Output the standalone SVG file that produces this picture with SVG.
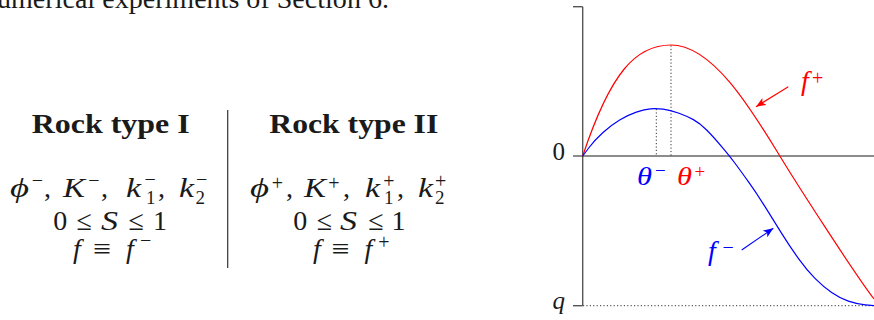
<svg xmlns="http://www.w3.org/2000/svg" width="874" height="320" viewBox="0 0 874 320">
<style>
  text { font-family: "Liberation Serif", "DejaVu Serif", serif; fill: #1a1a1a; }
  .t { font-size: 27px; font-weight: bold; }
  .m { font-size: 28px; }
  .i { font-style: italic; }
  .s { font-size: 20px; font-style: normal; }
  .b { font-size: 19px; font-style: normal; }
  .g { font-size: 25px; }
  .red { fill: #ff0000; }
  .blue { fill: #0000ff; }
  .axis { stroke: #1a1a1a; stroke-width: 1.2; fill: none; }
  .vaxis { stroke: #555; stroke-width: 1.4; fill: none; }
  .dot { stroke: #333; stroke-width: 1; stroke-dasharray: 1.2 2.2; fill: none; }
  .cr { stroke: #ff0000; stroke-width: 1.2; fill: none; }
  .cb { stroke: #0000ff; stroke-width: 1.2; fill: none; }
</style>
<defs>
  <marker id="ahr" viewBox="0 0 10 8" refX="10" refY="4" markerWidth="10" markerHeight="8" markerUnits="userSpaceOnUse" orient="auto">
    <path d="M0,0 L10,4 L0,8 L2.5,4 Z" fill="#ff0000"/>
  </marker>
  <marker id="ahb" viewBox="0 0 10 8" refX="10" refY="4" markerWidth="10" markerHeight="8" markerUnits="userSpaceOnUse" orient="auto">
    <path d="M0,0 L10,4 L0,8 L2.5,4 Z" fill="#0000ff"/>
  </marker>
</defs>
<rect width="874" height="320" fill="#ffffff"/>

<g id="caption-fragment">
  <text x="-3" y="8" font-size="27" textLength="392" lengthAdjust="spacingAndGlyphs">umerical experiments of Section 6.</text>
</g>

<g id="rock-type-1">
  <text class="t" x="31.7" y="133" textLength="158" lengthAdjust="spacingAndGlyphs">Rock type I</text>
  <text class="m"><tspan class="i" x="10" y="197" textLength="19" lengthAdjust="spacingAndGlyphs">ϕ</tspan><tspan class="s" x="31.7" y="187">−</tspan><tspan x="44" y="197">,</tspan><tspan class="i" x="63" y="197" textLength="22" lengthAdjust="spacingAndGlyphs">K</tspan><tspan class="s" x="88.3" y="187">−</tspan><tspan x="101" y="197">,</tspan><tspan class="i" x="126" y="197" textLength="15" lengthAdjust="spacingAndGlyphs">k</tspan><tspan class="s" x="144.5" y="186">−</tspan><tspan class="b" x="146" y="204">1</tspan><tspan x="158" y="197">,</tspan><tspan class="i" x="179" y="197" textLength="15" lengthAdjust="spacingAndGlyphs">k</tspan><tspan class="s" x="196" y="186">−</tspan><tspan class="b" x="195.5" y="204">2</tspan></text>
  <text class="m"><tspan x="53.3" y="230">0</tspan><tspan x="76.5" y="230">≤</tspan><tspan class="i" x="101" y="230" textLength="17" lengthAdjust="spacingAndGlyphs">S</tspan><tspan x="128.5" y="230">≤</tspan><tspan x="153" y="230">1</tspan></text>
  <text class="m"><tspan class="i" x="73" y="258">f</tspan><tspan x="93.3" y="258" textLength="18" lengthAdjust="spacingAndGlyphs">≡</tspan><tspan class="i" x="126" y="258">f</tspan><tspan class="s" x="140" y="247">−</tspan></text>
</g>

<g id="divider">
  <line x1="227.7" y1="110" x2="227.7" y2="268" stroke="#333" stroke-width="1.2"/>
</g>

<g id="rock-type-2">
  <text class="t" x="269.3" y="133" textLength="169" lengthAdjust="spacingAndGlyphs">Rock type II</text>
  <text class="m"><tspan class="i" x="250" y="197" textLength="19" lengthAdjust="spacingAndGlyphs">ϕ</tspan><tspan class="s" x="271.7" y="189.5">+</tspan><tspan x="286" y="197">,</tspan><tspan class="i" x="304" y="197" textLength="22" lengthAdjust="spacingAndGlyphs">K</tspan><tspan class="s" x="328.3" y="189.5">+</tspan><tspan x="343" y="197">,</tspan><tspan class="i" x="365" y="197" textLength="15" lengthAdjust="spacingAndGlyphs">k</tspan><tspan class="s" x="383.3" y="188">+</tspan><tspan class="b" x="384" y="204">1</tspan><tspan x="397" y="197">,</tspan><tspan class="i" x="418" y="197" textLength="15" lengthAdjust="spacingAndGlyphs">k</tspan><tspan class="s" x="435" y="188">+</tspan><tspan class="b" x="435" y="204">2</tspan></text>
  <text class="m"><tspan x="293.3" y="230">0</tspan><tspan x="316.7" y="230">≤</tspan><tspan class="i" x="340" y="230" textLength="17" lengthAdjust="spacingAndGlyphs">S</tspan><tspan x="368.3" y="230">≤</tspan><tspan x="391.5" y="230">1</tspan></text>
  <text class="m"><tspan class="i" x="313" y="258">f</tspan><tspan x="331.7" y="258" textLength="18" lengthAdjust="spacingAndGlyphs">≡</tspan><tspan class="i" x="364.5" y="258">f</tspan><tspan class="s" x="378.3" y="248.5">+</tspan></text>
</g>

<g id="plot-axes">
  <line class="vaxis" x1="582.7" y1="6.7" x2="582.7" y2="305.7"/>
  <line class="vaxis" x1="573" y1="6.7" x2="582.7" y2="6.7"/>
  <line class="vaxis" x1="573" y1="305.7" x2="582.7" y2="305.7"/>
  <line class="axis" x1="573" y1="156" x2="874" y2="156"/>
  <line class="dot" x1="583" y1="305.7" x2="874" y2="305.7"/>
  <line class="dot" x1="656.3" y1="109" x2="656.3" y2="156"/>
  <line class="dot" x1="671" y1="45.5" x2="671" y2="156"/>
  <text class="g" x="552.5" y="159.5">0</text>
  <text class="g i" x="552.5" y="309">q</text>
</g>

<g id="curve-f-plus">
  <path class="cr" d="M582.7,156 C610.7,72 636,45 671,45 C712,45 750,106.8 780,156.3 C795,181.05 854,273 874,299"/>
  <text class="g red"><tspan class="i" x="677" y="185" textLength="15" lengthAdjust="spacingAndGlyphs">θ</tspan><tspan class="s" x="694.5" y="177.5" style="font-size:19px">+</tspan></text>
  <text class="m red"><tspan class="i" x="801" y="90">f</tspan><tspan class="s" x="812" y="85">+</tspan></text>
</g>

<g id="curve-f-minus">
  <path class="cb" d="M582.7,156 L588.7,148 Q594.7,140 603,132.5 Q611.3,125 619.65,120 Q628,115 636.35,112.15 Q644.7,109.3 650.5,108.8 Q656.3,108.3 663.15,109.15 Q670,110 678.35,113 Q686.7,116 693.35,119.65 Q700,123.3 706.65,130 Q713.3,136.7 721.65,146.6 Q730,156.5 735,163.25 Q740,170 748.35,181.65 Q756.7,193.3 765,206.65 Q773.3,220 781.65,233.35 Q790,246.7 798.35,258.35 Q806.7,270 815,278.35 Q823.3,286.7 831.65,292.5 Q840,298.3 848.35,301.15 Q856.7,304 865.35,304.85 L875,305.7"/>
  <text class="g blue"><tspan class="i" x="637" y="185" textLength="15" lengthAdjust="spacingAndGlyphs">θ</tspan><tspan class="s" x="655" y="176.5" style="font-size:19px">−</tspan></text>
  <text class="m blue"><tspan class="i" x="708" y="260">f</tspan><tspan class="s" x="722.5" y="254">−</tspan></text>
</g>

<g id="connectors">
  <line x1="788.3" y1="86.7" x2="756" y2="106.7" stroke="#ff0000" stroke-width="1.1" marker-end="url(#ahr)"/>
  <line x1="741.7" y1="250" x2="773.3" y2="228.3" stroke="#0000ff" stroke-width="1.1" marker-end="url(#ahb)"/>
</g>
</svg>
